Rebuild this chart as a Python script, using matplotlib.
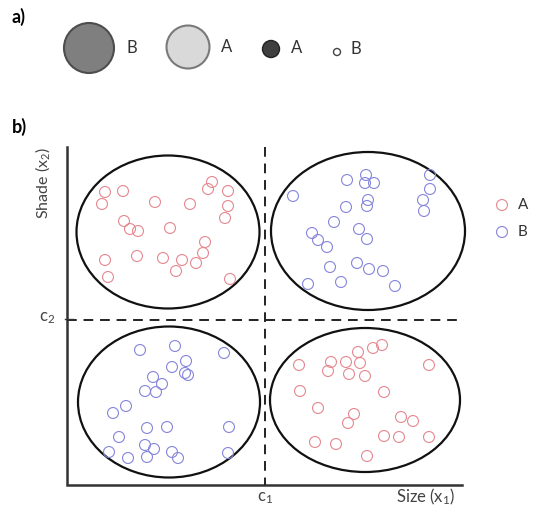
import matplotlib
matplotlib.use("Agg")
import matplotlib.pyplot as plt
import matplotlib.patches as mpatches

plt.rcParams['font.family'] = ['Lato', 'DejaVu Sans']
plt.rcParams['mathtext.fontset'] = 'custom'
plt.rcParams['mathtext.rm'] = 'Lato'
plt.rcParams['mathtext.it'] = 'Lato'

# positions, in pixels (x right, y down)
tl_red_x = [105, 123, 102, 155, 190, 212, 208, 228, 228, 225, 124, 130, 138, 170,
            205, 203, 196, 182, 176, 163, 137, 105, 108, 230]
tl_red_y = [192, 191, 204, 202, 204, 182, 189, 191, 206, 218, 221, 229, 231, 228,
            242, 253, 263, 260, 271, 258, 256, 260, 277, 279]

tr_blue_x = [293, 347, 366, 365, 374, 368, 367, 346, 430, 430, 423, 424, 334, 359,
             367, 312, 318, 327, 330, 357, 369, 383, 341, 308, 395]
tr_blue_y = [196, 180, 175, 183, 183, 200, 206, 207, 175, 189, 200, 211, 222, 229,
             239, 233, 240, 247, 267, 263, 269, 271, 282, 284, 286]

bl_blue_x = [140, 175, 224, 186, 172, 185, 188, 153, 162, 145, 156, 126, 113, 147,
             167, 229, 119, 145, 154, 109, 128, 147, 172, 178, 228]
bl_blue_y = [350, 346, 353, 361, 367, 373, 375, 377, 384, 391, 392, 406, 413, 428,
             427, 427, 437, 445, 449, 452, 458, 457, 452, 458, 453]

br_red_x = [382, 373, 358, 299, 331, 346, 360, 328, 349, 365, 429, 300, 384, 318,
            354, 348, 401, 413, 384, 399, 429, 315, 336, 367]
br_red_y = [345, 348, 352, 365, 362, 362, 363, 371, 374, 376, 365, 391, 392, 408,
            414, 423, 417, 421, 436, 437, 437, 442, 444, 456]

# cluster ellipses: centre x, centre y, width, height
ell_x = [168, 368, 169, 365]
ell_y = [232, 231, 402, 400]
ell_w = [183, 194, 182, 190]
ell_h = [153, 158, 151, 144]

red = '#e58890'
blue = '#8585dc'
txt = '#444444'

fig = plt.figure(figsize=(5.33, 5.09), dpi=100)
ax = fig.add_axes([0, 0, 1, 1])
ax.set_xlim(0, 533)
ax.set_ylim(509, 0)
ax.axis('off')

# panel a
ax.text(12, 17, 'a)', fontsize=13, fontweight='bold', va='center')
ax.add_patch(mpatches.Circle((89, 48), 25, fc='#7f7f7f', ec='#4d4d4d', lw=1.5))
ax.text(127, 48, 'B', fontsize=12, va='center', color='#333333')
ax.add_patch(mpatches.Circle((188, 47), 21.5, fc='#d9d9d9', ec='#7a7a7a', lw=1.5))
ax.text(221, 47, 'A', fontsize=12, va='center', color='#333333')
ax.add_patch(mpatches.Circle((271, 49), 8.5, fc='#3f3f3f', ec='#222222', lw=1.0))
ax.text(291, 48, 'A', fontsize=12, va='center', color='#333333')
ax.add_patch(mpatches.Circle((337, 52), 3.5, fc='white', ec='#444444', lw=1.0))
ax.text(350, 49, 'B', fontsize=12, va='center', color='#333333')

# panel b
ax.text(12, 127, 'b)', fontsize=13, fontweight='bold', va='center')
ax.plot([67, 67, 462], [147, 485, 485], color='#333333', lw=1.8, solid_joinstyle='miter')
ax.plot([265, 265], [147, 485], color='#222222', lw=1.4, ls=(0, (5, 3.5)))
ax.plot([67, 458], [320, 320], color='#222222', lw=1.4, ls=(0, (5, 3.5)))
ax.plot([65, 73], [319, 319], color='#333333', lw=1.0)

for cx, cy, w, h in zip(ell_x, ell_y, ell_w, ell_h):
    ax.add_patch(mpatches.Ellipse((cx, cy), w, h, fc='none', ec='#111111', lw=1.6))

ax.scatter(tl_red_x, tl_red_y, s=62, facecolors='none', edgecolors=red, linewidths=0.8)
ax.scatter(br_red_x, br_red_y, s=62, facecolors='none', edgecolors=red, linewidths=0.8)
ax.scatter(tr_blue_x, tr_blue_y, s=62, facecolors='none', edgecolors=blue, linewidths=0.8)
ax.scatter(bl_blue_x, bl_blue_y, s=62, facecolors='none', edgecolors=blue, linewidths=0.8)

ax.text(43, 183, 'Shade (x$_2$)', fontsize=11.5, rotation=90, ha='center', va='center',
        color=txt)
ax.text(47, 318, 'c$_2$', fontsize=12, ha='center', va='center', color=txt)
ax.text(265, 498, 'c$_1$', fontsize=12, ha='center', va='center', color=txt)
ax.text(426, 497, 'Size (x$_1$)', fontsize=12, ha='center', va='center', color=txt)

# legend
ax.scatter([502], [205], s=62, facecolors='none', edgecolors=red, linewidths=0.8)
ax.text(518, 205, 'A', fontsize=11, va='center', color='#333333')
ax.scatter([502], [232], s=62, facecolors='none', edgecolors=blue, linewidths=0.8)
ax.text(518, 232, 'B', fontsize=11, va='center', color='#333333')

fig.savefig('out.png', dpi=100)
